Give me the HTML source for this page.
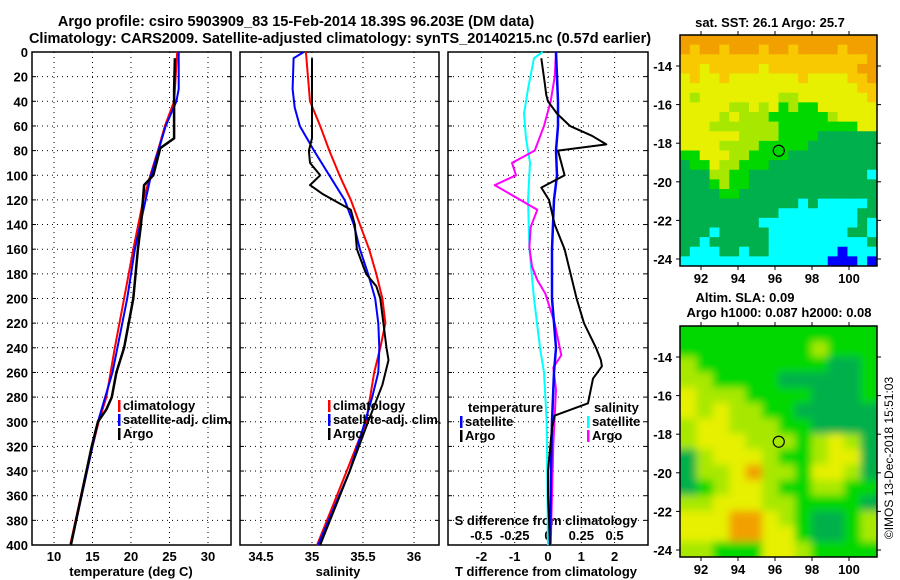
<!DOCTYPE html>
<html><head><meta charset="utf-8"><style>
html,body{margin:0;padding:0;background:#fff;}
svg{display:block;font-family:"Liberation Sans",Arial,sans-serif;}
.t{font-weight:bold;font-size:14.5px;}
.k{font-weight:bold;font-size:13px;}
</style></head><body>
<svg id="s" width="900" height="580" viewBox="0 0 900 580">
<text class="t" x="296" y="26" text-anchor="middle">Argo profile: csiro 5903909_83 15-Feb-2014 18.39S 96.203E (DM data)</text>
<text class="t" x="340" y="43" text-anchor="middle">Climatology: CARS2009. Satellite-adjusted climatology: synTS_20140215.nc (0.57d earlier)</text>
<text x="893" y="458" font-size="12" text-anchor="middle" transform="rotate(-90 893 458)">©IMOS 13-Dec-2018 15:51:03</text>
</svg>
<script>
// ---- data ----
const depthTicks=[0,20,40,60,80,100,120,140,160,180,200,220,240,260,280,300,320,340,360,380,400];
const tempTicks=[10,15,20,25,30];
const salTicks=[34.5,35,35.5,36];
const tdTicks=[-2,-1,0,1,2];
const sdTickLabels=["-0.5","-0.25","0","0.25","0.5"];
const sdTicks=[-0.5,-0.25,0,0.25,0.5];

const tClimD=[0,40,60,80,100,120,160,200,240,280,300,340,400];
const tClimV=[26.0,25.6,24.4,23.5,22.5,21.6,20.3,19.1,17.9,16.8,15.8,14.2,12.1];
const tSatD=[0,30,40,60,100,160,200,260,300,400];
const tSatV=[26.2,26.2,25.9,24.5,22.6,20.5,19.5,17.6,15.7,12.2];
const tArgoD=[5,30,70,78,100,108,140,160,200,240,260,280,290,300,320,400];
const tArgoV=[25.7,25.6,25.6,23.8,22.9,21.7,21.3,20.9,20.3,19.1,18.1,17.5,16.8,15.7,14.9,12.2];

const sClimD=[0,40,60,80,100,120,160,180,200,220,240,260,300,340,400];
const sClimV=[34.94,34.98,35.08,35.17,35.27,35.38,35.56,35.63,35.69,35.72,35.67,35.61,35.53,35.34,35.05];
const sSatD=[0,5,30,45,60,70,80,100,120,140,160,180,200,220,240,260,280,300,340,400];
const sSatV=[34.92,34.82,34.81,34.83,34.88,34.95,35.02,35.17,35.32,35.41,35.47,35.55,35.62,35.65,35.66,35.65,35.59,35.52,35.37,35.06];
const sArgoD=[5,70,80,90,100,108,115,128,140,160,180,190,200,220,240,250,270,300,340,400];
const sArgoV=[35.0,35.0,34.97,34.98,35.08,34.98,35.1,35.38,35.42,35.44,35.53,35.63,35.67,35.7,35.73,35.75,35.69,35.55,35.37,35.08];

const tdSatD=[0,20,40,60,80,100,120,140,160,200,240,260,300,340,400];
const tdSatV=[0.24,0.27,0.30,0.30,0.24,0.27,0.18,0.15,0.12,0.12,0.24,0.18,0.12,0.09,0.06];
const tdArgoD=[5,25,35,40,50,60,68,75,80,100,110,120,140,160,180,200,220,240,250,255,265,285,295,305,340,360,400];
const tdArgoV=[-0.2,-0.1,-0.05,0,0.27,0.66,1.32,1.75,0.3,0.5,-0.2,0.03,0.2,0.5,0.68,0.86,1.08,1.44,1.59,1.62,1.35,1.2,0.2,0.12,0,0,0.06];
const sdSatD=[0,5,30,50,70,90,120,160,200,240,260,300,400];
const sdSatV=[-0.04,-0.105,-0.15,-0.18,-0.165,-0.135,-0.15,-0.14,-0.105,-0.06,-0.03,-0.01,0];
const sdArgoD=[0,20,40,60,80,90,100,108,128,142,158,174,185,196,220,246,256,274,319,400];
const sdArgoV=[0.06,0.05,0.02,-0.03,-0.1,-0.27,-0.24,-0.4,-0.08,-0.13,-0.14,-0.12,-0.08,-0.02,0.05,0.1,0.04,0.06,0.04,0.02];

const lonTicks=[92,94,96,98,100];
const latTicks=[-14,-16,-18,-20,-22,-24];
const argoLon=96.203, argoLat=-18.39;
const sstGrid=[
"OOOOOOOOOOOOOOOOOOOO",
"OoOOoOOOoOOoOOOOoOOO",
"oooooooooooooooooooO",
"ooYoooooYoooooooooOO",
"YoYYoYYYYYYYoYYYYooO",
"YYYYYYYYYYYYYYYYYYoo",
"YLYYYYYYYYLLYYYYYYYo",
"YYYYYLLYLYGLGGYYYYYY",
"YYYYLYLLLGGGGGGLYYYY",
"YYYLLLLLLLGGGGGGGGYY",
"YYYYYYLLLLGGGGDDDDDD",
"YYYYLLLLGGGGGDDDDDDD",
"GGYYYLLGGGGDDDDDDDDD",
"DGGYLLGGGDDDDDDDDDDD",
"DDDLLGGDDDDDDDDDDDDC",
"DDDGLGGDDDDDDDDDDDDD",
"DDDDGGDDDDDDDDDDDDDD",
"DDDDDDDDDDDDCDCCCCCD",
"DDDDDDDDDDCCCCCCCCDD",
"DDDDDDDDCCCCCCCCCCDC",
"DDDCDDDDDCCCCCCCCDDC",
"DDCDDDDDDCCCCCCCCCCD",
"DCCCDDCDDCCCCCCCBCCC",
"CCCCCCCCCCCCCCCBBBCB"];
const slaGrid=[
"GGGGGGGGGGGG",
"GGGGGGGGLGGG",
"LGGGGGGGGDDG",
"LLGGGGDDDDDG",
"YLLLGGGGDDDG",
"YLYLLGGDDDDD",
"LYYLLLGGDDDD",
"LYYYLLLGLYLD",
"DLYYYLGGLYYD",
"DLLYOLLGYYLD",
"DGLYYLGGLLGG",
"LLYYYLLGGGGD",
"YYYOOYLGDDGL",
"YYYOOYYGDDGL",
"LLGGGYYLGGGG"];
</script>
<script>
const NS="http://www.w3.org/2000/svg", S=document.getElementById('s');
function mk(tag,at,par){const e=document.createElementNS(NS,tag);for(const k in at)e.setAttribute(k,at[k]);(par||S).appendChild(e);return e;}
const Y0=52,Y1=545;
const yD=d=>Y0+(d/400)*(Y1-Y0);
const xT=t=>54+(t-10)*7.7;
const xS=s=>312+(s-35)*102;
const xTD=t=>548+t*33.3;
const xSD=s=>548+s*133.2;
const panels=[[32,231],[240,439],[448,648]];
const grid=[tempTicks.map(xT),salTicks.map(xS),tdTicks.map(xTD)];
const pnames=['temperature-panel','salinity-panel','difference-panel'];
panels.forEach((p,i)=>{
  const g=mk('g',{});
  
  
  depthTicks.forEach(d=>{if(d>0&&d<400){const l=mk('line',{x1:p[0],x2:p[1],y1:yD(d),y2:yD(d),stroke:'#000','stroke-width':1,'stroke-dasharray':'1 4'},g);}
    mk('line',{x1:p[0],x2:p[0]+4,y1:yD(d),y2:yD(d),stroke:'#000'},g);mk('line',{x1:p[1]-4,x2:p[1],y1:yD(d),y2:yD(d),stroke:'#000'},g);});
  grid[i].forEach(x=>{const l=mk('line',{x1:x,x2:x,y1:Y0,y2:Y1,stroke:'#000','stroke-dasharray':'1 4'},g);});
  const r=mk('rect',{x:p[0],y:Y0,width:p[1]-p[0],height:Y1-Y0,fill:'none',stroke:'#000','stroke-width':1.5},g);
  
});
depthTicks.forEach(d=>{const t=mk('text',{x:28,y:yD(d)+5,'text-anchor':'end',class:'k'});t.textContent=d;
  });
function xlab(arr,fx,y,labs){arr.forEach((v,i)=>{const t=mk('text',{x:fx(v),y:y,'text-anchor':'middle',class:'k'});t.textContent=labs?labs[i]:v;
  });}
xlab(tempTicks,xT,561);xlab(salTicks,xS,561);xlab(tdTicks,xTD,561);xlab(sdTicks,xSD,540,sdTickLabels);
function lab(x,y,s,n,anch){const t=mk('text',{x:x,y:y,class:'k','text-anchor':anch||'middle'});t.textContent=s;return t;}
lab(131,576,'temperature (deg C)','temperature-axis-title');
lab(338,576,'salinity','salinity-axis-title');
lab(546,576,'T difference from climatology','t-diff-axis-title');
lab(546,525,'S difference from climatology','s-diff-axis-title');
function line(D,V,fx,col,w,n){const pts=D.map((d,i)=>fx(V[i]).toFixed(1)+','+yD(d).toFixed(1)).join(' ');
  const p=mk('polyline',{points:pts,fill:'none',stroke:col,'stroke-width':w,'stroke-linejoin':'round'});}
line(tClimD,tClimV,xT,'#f00',2,'temp-climatology-line');
line(tSatD,tSatV,xT,'#00f',2,'temp-satellite-line');
line(tArgoD,tArgoV,xT,'#000',2.5,'temp-argo-line');
line(sClimD,sClimV,xS,'#f00',2,'sal-climatology-line');
line(sSatD,sSatV,xS,'#00f',2,'sal-satellite-line');
line(sArgoD,sArgoV,xS,'#000',2,'sal-argo-line');
line(sdSatD,sdSatV,xSD,'#0ff',2,'sdiff-satellite-line');
line(sdArgoD,sdArgoV,xSD,'#f0f',2,'sdiff-argo-line');
line(tdSatD,tdSatV,xTD,'#00f',2.5,'tdiff-satellite-line');
line(tdArgoD,tdArgoV,xTD,'#000',2,'tdiff-argo-line');
function leg(x,y,col,s,n){mk('rect',{x:x,y:y-10,width:2.5,height:12,fill:col});const t=lab(x+5,y,s,n,'start');return t;}
[[118,'#f00','climatology'],[118,'#00f','satellite-adj. clim.'],[118,'#000','Argo']].forEach((e,i)=>leg(e[0],410+i*14,e[1],e[2],'legend-entry'));
[[328,'#f00','climatology'],[328,'#00f','satellite-adj. clim.'],[328,'#000','Argo']].forEach((e,i)=>leg(e[0],410+i*14,e[1],e[2],'legend-entry'));
lab(468,412,'temperature','legend-heading','start');lab(594,412,'salinity','legend-heading','start');
leg(460,426,'#00f','satellite','legend-entry');leg(460,440,'#000','Argo','legend-entry');
leg(587,426,'#0ff','satellite','legend-entry');leg(587,440,'#f0f','Argo','legend-entry');
// maps
const C={O:'#f2a000',o:'#f8c800',Y:'#e6f000',L:'#a8e800',G:'#00d800',D:'#00b04c',C:'#00ffff',B:'#0000ff'};
function map(top,bot,gridArr,blur,name){
  const X0=680,X1=877;
  const lonX=l=>701+(l-92)*18.5;
  const yTop14=top+31;
  const latY=l=>yTop14+(-14-l)*19.3;
  const g=mk('g',{});
  const id='c'+top;const cp=mk('clipPath',{id:id},g);mk('rect',{x:X0,y:top,width:X1-X0,height:bot-top},cp);
  if(blur){const f=mk('filter',{id:'f'+top,x:'-10%',y:'-10%',width:'120%',height:'120%'},g);mk('feGaussianBlur',{stdDeviation:blur},f);}
  const cg=mk('g',{'clip-path':'url(#'+id+')'},g);
  const ig=mk('g',blur?{filter:'url(#f'+top+')'}:{},cg);
  mk('rect',{x:X0-20,y:top-20,width:X1-X0+40,height:bot-top+40,fill:C.G},ig);
  const nr=gridArr.length,nc=gridArr[0].length,ch=(bot-top)/nr,cw=(X1-X0)/nc;
  gridArr.forEach((row,r)=>{for(let c=0;c<nc;c++){
    const pad=blur?ch:0;
    mk('rect',{x:X0+c*cw-(c==0?pad:0),y:top+r*ch-(r==0?pad:0),width:cw+0.6+(c==0||c==nc-1?pad:0),height:ch+0.6+(r==0||r==nr-1?pad:0),fill:C[row[c]]},ig);}});
  mk('rect',{x:X0,y:top,width:X1-X0,height:bot-top,fill:'none',stroke:'#000','stroke-width':1.5},g);
  const ci=mk('circle',{cx:lonX(argoLon),cy:latY(argoLat),r:5.5,fill:'none',stroke:'#000','stroke-width':1.2},g);
  
  lonTicks.forEach(l=>{mk('line',{x1:lonX(l),x2:lonX(l),y1:top,y2:top-4,stroke:'#000'},g);mk('line',{x1:lonX(l),x2:lonX(l),y1:bot,y2:bot+4,stroke:'#000'},g);
    const t=mk('text',{x:lonX(l),y:bot+17,'text-anchor':'middle',class:'k'},g);t.textContent=l;});
  latTicks.forEach(l=>{mk('line',{x1:X0,x2:X0-4,y1:latY(l),y2:latY(l),stroke:'#000'},g);mk('line',{x1:X1,x2:X1+4,y1:latY(l),y2:latY(l),stroke:'#000'},g);
    const t=mk('text',{x:672,y:latY(l)+5,'text-anchor':'end',class:'k'},g);t.textContent=l;});
}
map(35,266,sstGrid,0,'sst-map');
map(326,557,slaGrid,4,'sla-map');
lab(770,27,'sat. SST: 26.1 Argo: 25.7','sst-map-title');
lab(745,302,'Altim. SLA: 0.09','sla-map-title');
lab(779,317,'Argo h1000: 0.087 h2000: 0.08','sla-map-subtitle');
</script>
</body></html>
